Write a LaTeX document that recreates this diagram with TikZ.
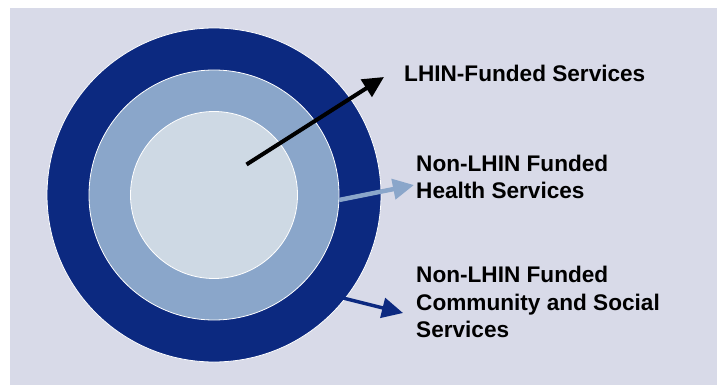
\documentclass[tikz,border=0pt]{standalone}
\usepackage{fontspec}
\setmainfont{Liberation Sans}
\usetikzlibrary{arrows.meta}
\definecolor{bgpanel}{RGB}{216,218,232}
\definecolor{ringdark}{RGB}{12,41,128}
\definecolor{ringmid}{RGB}{138,166,202}
\definecolor{ringcore}{RGB}{206,217,228}
\tikzset{
  ring/.style={draw=white, line width=0.8pt},
  label/.style={anchor=base west, inner sep=0pt, align=left,
    font=\fontsize{22.6}{27.4}\selectfont\bfseries, text=black},
  pointer/.style={line width=#1, -{Triangle[length=21pt, width=20pt]}},
}
\begin{document}
\begin{tikzpicture}[x=1pt, y=-1pt]
  \useasboundingbox (0,0) rectangle (717,385);
  % backdrop panel
  \fill[bgpanel] (10,8) rectangle (717,385);

  % nested service circles
  \node[ring, circle, fill=ringdark, minimum size=334pt, inner sep=0pt] (outer) at (214,195) {};
  \node[ring, circle, fill=ringmid, minimum size=250pt, inner sep=0pt] (middle) at (214,195) {};
  \node[ring, circle, fill=ringcore, minimum size=167pt, inner sep=0pt] (core) at (214,195) {};

  % labels (anchored on the baseline of their last line)
  \node[label] (lhin) at (404,81.5) {LHIN-Funded Services};
  \node[label] (health) at (416,198.5) {Non-LHIN Funded\\Health Services};
  \node[label] (social) at (416,337.5) {Non-LHIN Funded\\Community and Social\\Services};

  % pointer ends
  \coordinate (coreStart) at (246.5,164.5);
  \coordinate (coreTip) at (384,77);
  \coordinate (midStart) at (339,200);
  \coordinate (midTip) at (414,185);
  \coordinate (outStart) at (343,298);
  \coordinate (outTip) at (403,313);

  \draw[pointer=4pt, black] (coreStart) -- (coreTip);
  \draw[pointer=4.5pt, ringmid] (midStart) -- (midTip);
  \draw[pointer=3.5pt, ringdark] (outStart) -- (outTip);
\end{tikzpicture}
\end{document}
